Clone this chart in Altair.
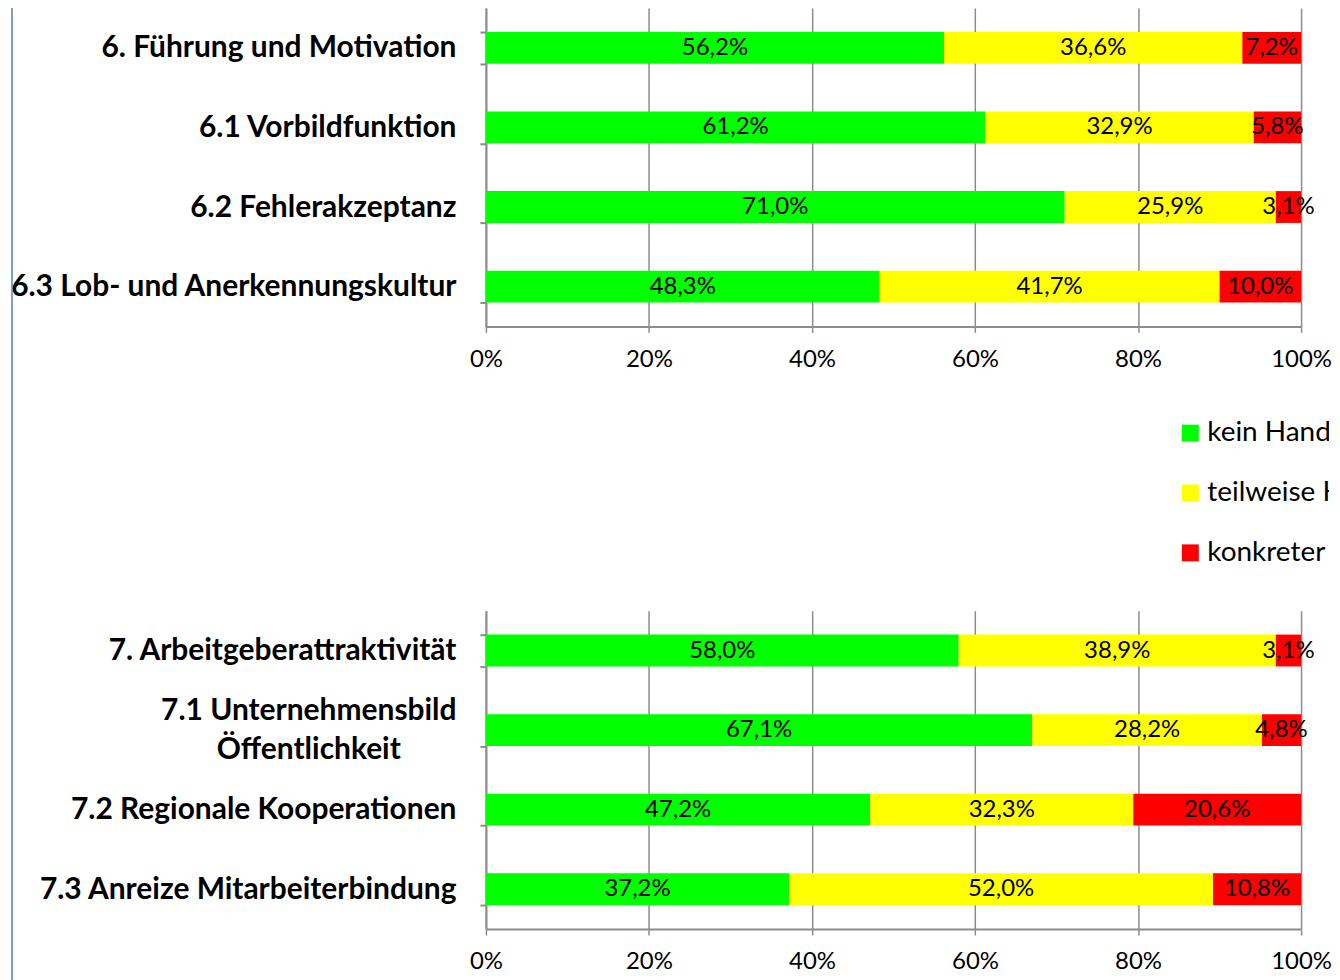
import altair as alt
import pandas as pd

# ---- data ----
series = ["kein Handlungsbedarf", "teilweise Handlungsbedarf", "konkreter Handlungsbedarf"]
colors = ["#00FF00", "#FFFF00", "#FF0000"]

top_cats = ["6. Führung und Motivation", "6.1 Vorbildfunktion", "6.2 Fehlerakzeptanz",
            "6.3 Lob- und Anerkennungskultur"]
top_green = [56.2, 61.2, 71.0, 48.3]
top_yellow = [36.6, 32.9, 25.9, 41.7]
top_red = [7.2, 5.8, 3.1, 10.0]

bottom_cats = ["7. Arbeitgeberattraktivität", "7.1 Unternehmensbild Öffentlichkeit",
               "7.2 Regionale Kooperationen", "7.3 Anreize Mitarbeiterbindung"]
bottom_green = [58.0, 67.1, 47.2, 37.2]
bottom_yellow = [38.9, 28.2, 32.3, 52.0]
bottom_red = [3.1, 4.8, 20.6, 10.8]

x_ticks = [0, 0.2, 0.4, 0.6, 0.8, 1.0]

FONT = "Lato"
GRAY = "#8c8c8c"

WRAPPED = "7.1 Unternehmensbild Öffentlichkeit"
TEST = f"datum.value == '{WRAPPED}'"


def make_table(cats, g, y, r):
    rows = []
    for i, c in enumerate(cats):
        for k, v in enumerate([g[i], y[i], r[i]]):
            rows.append({"cat": c, "serie": series[k], "order": k, "value": v,
                         "label": f"{v:.1f}".replace(".", ",") + "%"})
    return pd.DataFrame(rows)


color_scale = alt.Scale(domain=series, range=colors)

label_expr = f"{TEST} ? ['7.1 Unternehmensbild', 'Öffentlichkeit'] : datum.value"


def panel(cats, g, y, r, blue_line=False):
    df = make_table(cats, g, y, r)
    base = alt.Chart(df).transform_stack(
        stack="value", groupby=["cat"], as_=["x0", "x1"], offset="normalize",
        sort=[alt.SortField("order", "ascending")]
    ).transform_calculate(mid="(datum.x0 + datum.x1) / 2")

    yenc = alt.Y("cat:N", sort=cats,
                 scale=alt.Scale(paddingInner=0.6, paddingOuter=0.3),
                 axis=alt.Axis(title=None, tickBand="extent", tickSize=6, tickColor=GRAY,
                               tickWidth=2, domainColor=GRAY, domainWidth=2,
                               labelFont=FONT, labelFontSize=30, labelFontWeight="bold",
                               labelColor="black", labelLimit=700,
                               labelLineHeight=39, labelExpr=label_expr,
                               labelAlign={"condition": {"test": TEST, "value": "center"},
                                           "value": "right"},
                               labelPadding={"condition": {"test": TEST, "value": 172},
                                             "value": 24},
                               labelOffset={"condition": {"test": TEST, "value": -20},
                                            "value": 0}))
    bars = base.mark_bar().encode(
        x=alt.X("x0:Q", scale=alt.Scale(domain=[0, 1], nice=False),
                axis=alt.Axis(title=None, format=".0%", values=x_ticks, grid=True,
                              gridColor=GRAY, gridWidth=1.5, domainColor=GRAY, domainWidth=2,
                              tickColor=GRAY, tickWidth=1.5, tickSize=6,
                              labelFont=FONT, labelFontSize=24, labelColor="black",
                              labelPadding=15, labelFlush=False, labelOverlap=False)),
        x2="x1:Q",
        y=yenc,
        color=alt.Color("serie:N", scale=color_scale, legend=None),
    )
    text = base.mark_text(font=FONT, fontSize=24, color="black",
                          baseline="middle", align="center").encode(
        x="mid:Q", y=alt.Y("cat:N", sort=cats), text="label:N")
    layers = [bars, text]
    if blue_line:
        rule = alt.Chart(alt.Data(values=[{}])).mark_rule(
            color="#4F81BD", strokeWidth=1.5).encode(
            x=alt.value(-475), y=alt.value(0), y2=alt.value(975))
        layers.insert(0, rule)
    return alt.layer(*layers).properties(width=817, height=319)


top = panel(top_cats, top_green, top_yellow, top_red, blue_line=True)
bottom = panel(bottom_cats, bottom_green, bottom_yellow, bottom_red)

leg_df = pd.DataFrame({"serie": series})
leg_y = alt.Y("serie:N", sort=series, scale=alt.Scale(range=[107, 227], padding=0), axis=None)
leg_sq = alt.Chart(leg_df).mark_square(size=289, opacity=1).encode(
    x=alt.value(706), y=leg_y,
    color=alt.Color("serie:N", scale=color_scale, legend=None))
leg_tx = alt.Chart(leg_df).mark_text(font=FONT, fontSize=28, align="left", baseline="middle",
                                     color="black", clip=True).encode(
    x=alt.value(723), y=leg_y, text="serie:N")
legend = alt.layer(leg_sq, leg_tx).properties(width=845, height=285)

chart = alt.vconcat(top, legend, bottom, spacing=0, bounds="flush").properties(
    padding={"left": 1, "top": -16, "right": 0, "bottom": 0}
).configure(font=FONT, background="white", view=alt.ViewConfig(strokeWidth=0))

chart.save("out.html", embed_options={"renderer": "svg", "actions": False})
